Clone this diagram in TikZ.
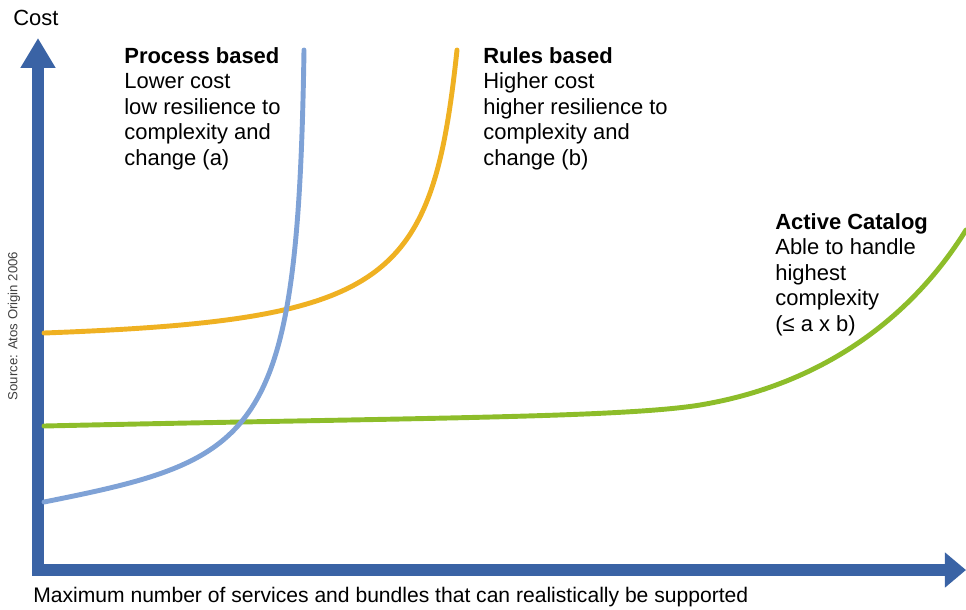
\documentclass[tikz,border=0pt]{standalone}
\usepackage{fontspec}
\setmainfont{Liberation Sans}
\usetikzlibrary{arrows.meta}
\definecolor{axisblue}{HTML}{3A63A5}
\definecolor{procblue}{HTML}{7FA2D6}
\definecolor{rulesorange}{HTML}{EFB122}
\definecolor{catgreen}{HTML}{8DBD2A}

\begin{document}
\begin{tikzpicture}[x=0.02cm, y=0.02cm]
\tikzstyle{every node}+=[inner sep=0pt]
\tikzstyle{axis}=[draw=axisblue, line width=6.8pt, line join=miter,
  {Triangle[length=17pt,width=18.8pt]}-{Triangle[length=12pt,width=19.3pt]}]
\tikzstyle{curve}=[line width=2.8pt, line cap=round]
\tikzstyle{lbl}=[anchor=north west, align=left, font=\fontsize{12.5}{14.5}\selectfont]
\useasboundingbox (0,0) rectangle (966,-609);
\coordinate (origin) at (38,-570);
\coordinate (ytip) at (38,-38);
\coordinate (xtip) at (966,-570);
\draw [axis] (ytip) -- (origin) -- (xtip);
\draw (13,-25) node [anchor=base west, font=\fontsize{12.5}{14.5}\selectfont] (cost) {Cost};
\draw (33,-602) node [anchor=base west, font=\fontsize{12}{14}\selectfont] (xlabel)
  {Maximum number of services and bundles that can realistically be supported};
\draw (14,-326) node [rotate=90, text=black!75, font=\fontsize{7.5}{9}\selectfont] (source)
  {Source: Atos Origin 2006};
\draw [curve, catgreen] (44,-426) .. controls (400,-418) and (620,-418) .. (700,-405)
  .. controls (820,-385) and (910,-320) .. (966,-230);
\draw [curve, rulesorange] (44,-333) .. controls (390,-320) and (432,-285) .. (457,-50);
\draw [curve, procblue] (44,-502) .. controls (260,-459) and (298,-440) .. (304,-50);
\draw (124,-47) node [lbl] (process) {\textbf{Process based}\\Lower cost\\low resilience to\\complexity and\\change (a)};
\draw (483,-47) node [lbl] (rules) {\textbf{Rules based}\\Higher cost\\higher resilience to\\complexity and\\change (b)};
\draw (775,-213) node [lbl] (catalog) {\textbf{Active Catalog}\\Able to handle\\highest\\complexity\\(≤ a x b)};
\end{tikzpicture}
\end{document}
